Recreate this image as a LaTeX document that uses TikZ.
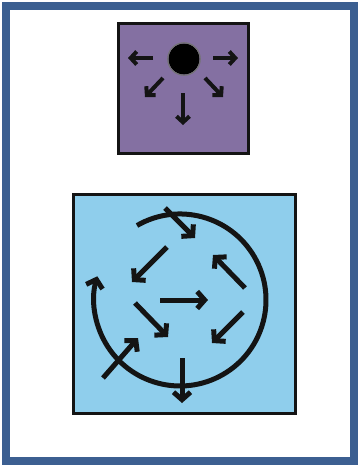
\documentclass[tikz,border=0pt]{standalone}
\usetikzlibrary{arrows.meta}
\definecolor{frame}{RGB}{60,95,145}
\definecolor{purp}{RGB}{132,112,162}
\definecolor{lblue}{RGB}{143,206,236}
\definecolor{ink}{RGB}{20,20,20}
\begin{document}
\begin{tikzpicture}[x=1pt,y=-1pt,
  box/.style={draw=ink, line width=2.8pt},
  sarr/.style={draw=ink, line width=4pt, line cap=butt, -{Straight Barb[length=6pt,width=13pt]}},
  barr/.style={draw=ink, line width=5pt, line cap=butt, -{Straight Barb[length=7.5pt,width=17pt]}}]
\useasboundingbox (0,0) rectangle (360,467);
\draw[line width=8pt, draw=frame] (6,6) rectangle (354,461);
% purple box
\draw[box, fill=purp] (118.5,23.5) rectangle (248.5,153.5);
\fill[black] (184,59) circle (15.5);
\draw[black!55, line width=1.2pt] (184,59) circle (16.2);
\draw[sarr] (153,58) -- (128,58);
\draw[sarr] (213,58) -- (238,58);
\draw[sarr] (163,78) -- (145,97);
\draw[sarr] (183,93) -- (183,125);
\draw[sarr] (205,78) -- (223,97);
% blue box
\draw[box, fill=lblue] (73.5,194.5) rectangle (295.5,413.5);
\draw[barr] (137,225.5) arc[start angle=-120, end angle=196, radius=86];
\draw[barr] (165,208) -- (195,238);
\draw[barr] (167,247) -- (132,282);
\draw[barr] (245,288) -- (213,255);
\draw[barr] (160,300) -- (208,300);
\draw[barr] (135,303) -- (168,337);
\draw[barr] (243,312) -- (212,343);
\draw[barr] (103,378) -- (138,338);
\draw[barr] (182,358) -- (182,403);
\end{tikzpicture}
\end{document}
